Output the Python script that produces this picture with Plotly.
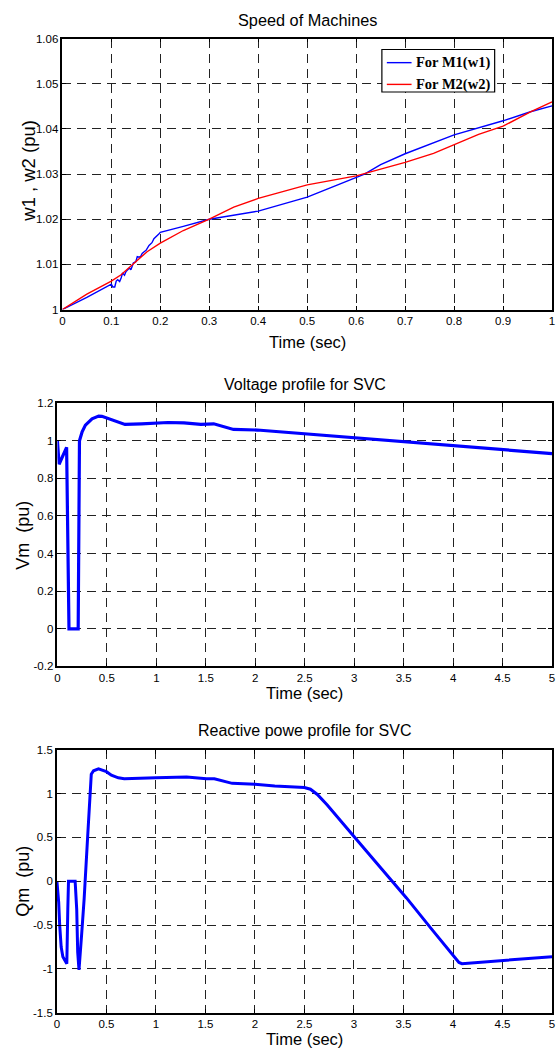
import plotly.graph_objects as go

# ---------------- data ----------------
# Speed of machines (pu) vs time (s)
t_w1 = [0, 0.05, 0.1, 0.103, 0.107, 0.11, 0.113, 0.117, 0.12, 0.123, 0.127, 0.13,
        0.137, 0.14, 0.145, 0.15, 0.153, 0.157, 0.16, 0.163, 0.167, 0.171, 0.177,
        0.18, 0.183, 0.187, 0.193, 0.197, 0.2, 0.213, 0.247, 0.3, 0.4, 0.5, 0.55,
        0.6, 0.617, 0.65, 0.7, 0.8, 0.85, 0.9, 0.956, 1.0]
w1 = [1.0, 1.0027, 1.0056, 1.0050, 1.0050, 1.0063, 1.0066, 1.0062, 1.0070, 1.0081,
      1.0076, 1.0084, 1.0092, 1.0088, 1.0103, 1.0106, 1.0117, 1.0116, 1.0118, 1.0124,
      1.0128, 1.0131, 1.0142, 1.0146, 1.0148, 1.0157, 1.0162, 1.0167, 1.0171, 1.0175,
      1.0184, 1.0200, 1.0218, 1.0249, 1.0271, 1.0294, 1.0300, 1.0321, 1.0345, 1.0387,
      1.0402, 1.0418, 1.0438, 1.0451]

t_w2 = [0, 0.05, 0.1, 0.12, 0.147, 0.173, 0.2, 0.247, 0.3, 0.35, 0.4, 0.5, 0.6,
        0.67, 0.7, 0.758, 0.8, 0.85, 0.9, 0.956, 1.0]
w2 = [1.0, 1.0034, 1.0063, 1.0077, 1.0103, 1.0128, 1.0147, 1.0175, 1.0200, 1.0227,
      1.0246, 1.0276, 1.0296, 1.0318, 1.0326, 1.0346, 1.0366, 1.0388, 1.0406, 1.0438,
      1.0460]

# SVC voltage (pu)
t_vm = [0, 0.017, 0.093, 0.103, 0.113, 0.117, 0.21, 0.215, 0.223, 0.25, 0.283, 0.35,
        0.417, 0.45, 0.517, 0.6, 0.683, 0.85, 1.117, 1.28, 1.45, 1.58, 1.65, 1.78,
        2.02, 2.23, 2.5, 3.0, 3.5, 4.0, 4.5, 5.0]
vm = [1.0, 0.875, 0.965, 0.5, 0.05, 0.0, 0.0, 0.5, 1.0, 1.048, 1.083, 1.117, 1.131,
      1.13, 1.118, 1.099, 1.087, 1.09, 1.097, 1.095, 1.087, 1.09, 1.078, 1.06, 1.057,
      1.048, 1.035, 1.017, 0.996, 0.973, 0.952, 0.932]

# SVC reactive power (pu)
t_qm = [0, 0.018, 0.028, 0.043, 0.06, 0.089, 0.1, 0.11, 0.117, 0.184, 0.2, 0.21,
        0.223, 0.25, 0.275, 0.31, 0.347, 0.37, 0.42, 0.5, 0.55, 0.62, 0.68, 1.0, 1.31,
        1.51, 1.59, 1.77, 2.0, 2.2, 2.5, 2.56, 2.63, 2.73, 2.83, 3.0, 3.226, 3.39,
        3.53, 3.78, 4.06, 4.09, 4.41, 5.0]
qm = [0, -0.24, -0.5, -0.75, -0.86, -0.92, -0.94, -0.32, 0, 0, -0.32, -0.81, -1.01,
      -0.6, -0.2, 0.5, 1.22, 1.26, 1.283, 1.25, 1.21, 1.18, 1.17, 1.18, 1.19, 1.17,
      1.17, 1.117, 1.106, 1.087, 1.07, 1.05, 0.99, 0.87, 0.74, 0.51, 0.21, 0.0, -0.19,
      -0.54, -0.926, -0.94, -0.91, -0.86]

# tick values / labels
w_xticks = [0, 0.1, 0.2, 0.3, 0.4, 0.5, 0.6, 0.7, 0.8, 0.9, 1.0]
w_xlabels = ["0", "0.1", "0.2", "0.3", "0.4", "0.5", "0.6", "0.7", "0.8", "0.9", "1"]
w_yticks = [1.0, 1.01, 1.02, 1.03, 1.04, 1.05, 1.06]
w_ylabels = ["1", "1.01", "1.02", "1.03", "1.04", "1.05", "1.06"]
t_ticks = [0, 0.5, 1, 1.5, 2, 2.5, 3, 3.5, 4, 4.5, 5]
t_labels = ["0", "0.5", "1", "1.5", "2", "2.5", "3", "3.5", "4", "4.5", "5"]
v_yticks = [-0.2, 0, 0.2, 0.4, 0.6, 0.8, 1.0, 1.2]
v_ylabels = ["-0.2", "0", "0.2", "0.4", "0.6", "0.8", "1", "1.2"]
q_yticks = [-1.5, -1, -0.5, 0, 0.5, 1, 1.5]
q_ylabels = ["-1.5", "-1", "-0.5", "0", "0.5", "1", "1.5"]

legend_names = ["For M1(w1)", "For M2(w2)"]
legend_colors = ["#0000ff", "#ff0000"]

# ---------------- figure ----------------
W, H = 558, 1057
SANS = "Liberation Sans, Arial, sans-serif"
SERIF = "Liberation Serif, Times New Roman, serif"


def px(x):
    return x / W


def py(y):
    return 1 - y / H


fig = go.Figure()
fig.add_trace(go.Scatter(x=t_w1, y=w1, mode="lines", name=legend_names[0],
                         line=dict(color=legend_colors[0], width=1.4),
                         xaxis="x", yaxis="y"))
fig.add_trace(go.Scatter(x=t_w2, y=w2, mode="lines", name=legend_names[1],
                         line=dict(color=legend_colors[1], width=1.4),
                         xaxis="x", yaxis="y"))
fig.add_trace(go.Scatter(x=t_vm, y=vm, mode="lines",
                         line=dict(color="#0000ff", width=3.2), xaxis="x2", yaxis="y2"))
fig.add_trace(go.Scatter(x=t_qm, y=qm, mode="lines",
                         line=dict(color="#0000ff", width=3.0), xaxis="x3", yaxis="y3"))


def axis(domain, rng, vals, texts, anchor):
    return dict(domain=domain, range=rng, tickmode="array", tickvals=vals,
                ticktext=texts, anchor=anchor, showline=True, linecolor="black",
                linewidth=1.5, mirror="ticks", ticks="inside", ticklen=4,
                tickcolor="black", showgrid=True, gridcolor="#222222", gridwidth=1,
                griddash="9px,6px", zeroline=False, fixedrange=True,
                ticklabeloverflow="allow",
                tickfont=dict(family=SANS, size=11.5, color="black"))


fig.update_layout(
    width=W, height=H, margin=dict(l=0, r=0, t=0, b=0),
    paper_bgcolor="white", plot_bgcolor="white", showlegend=False,
    xaxis=axis([px(60), px(555)], [0, 1], w_xticks, w_xlabels, "y"),
    yaxis=axis([py(307), py(33)], [1.0, 1.06], w_yticks, w_ylabels, "x"),
    xaxis2=axis([px(55), px(555)], [0, 5], t_ticks, t_labels, "y2"),
    yaxis2=axis([py(668), py(401.7)], [-0.2, 1.2], v_yticks, v_ylabels, "x2"),
    xaxis3=axis([px(54.5), px(555)], [0, 5], t_ticks, t_labels, "y3"),
    yaxis3=axis([py(1018.3), py(752.3)], [-1.5, 1.5], q_yticks, q_ylabels, "x3"),
)

# legend box for the speed plot (drawn in paper coordinates)
fig.add_shape(type="rect", xref="paper", yref="paper", layer="above",
              x0=px(383), x1=px(497), y0=py(87), y1=py(44),
              line=dict(color="black", width=1.2), fillcolor="white")
for i, (name, color) in enumerate(zip(legend_names, legend_colors)):
    yc = 57.3 + 22 * i
    fig.add_shape(type="line", xref="paper", yref="paper", layer="above",
                  x0=px(388), x1=px(413), y0=py(yc), y1=py(yc),
                  line=dict(color=color, width=1.4))
    fig.add_annotation(text=name, x=px(415), y=py(yc), xref="paper", yref="paper",
                       xanchor="left", yanchor="middle", showarrow=False,
                       font=dict(family=SERIF, size=14.5, color="black",
                                 weight="bold"))

# titles and axis labels
texts = [
    ("Speed of Machines", 307.5, 14, 0, 16.3),
    ("Voltage profile for SVC", 305, 383, 0, 16),
    ("Reactive powe profile for SVC", 305, 733, 0, 16),
    ("Time (sec)", 307.5, 340, 0, 16.5),
    ("Time (sec)", 305, 695, 0, 16.5),
    ("Time (sec)", 305, 1045, 0, 16.5),
    ("w1 , w2 (pu)", 25, 167, -90, 18.5),
    ("Vm  (pu)", 20, 535, -90, 18),
    ("Qm  (pu)", 20, 885, -90, 18),
]
for txt, x, y, ang, size in texts:
    fig.add_annotation(text=txt, x=px(x), y=py(y), xref="paper", yref="paper",
                       xanchor="center", yanchor="middle", showarrow=False,
                       textangle=ang, font=dict(family=SANS, size=size, color="black"))

fig.write_html("out.html")
